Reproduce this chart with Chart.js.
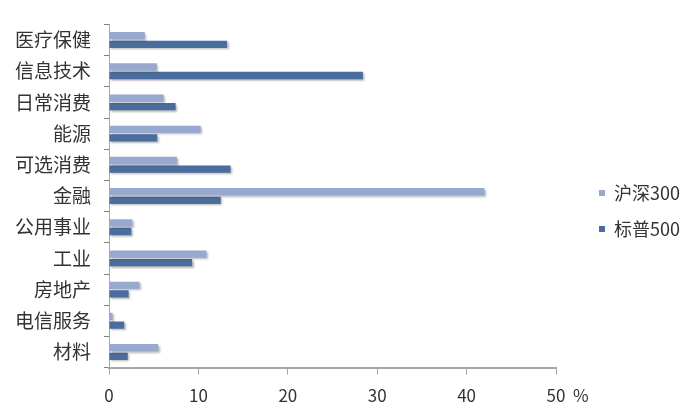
<!DOCTYPE html>
<html lang="zh">
<head>
  <meta charset="UTF-8">
  <title>行业权重对比</title>
  <script src="https://cdn.jsdelivr.net/npm/chart.js"></script>
  <style>
    html, body {
      margin: 0;
      padding: 0;
      background: #ffffff;
    }
    .wrap {
      width: 700px;
      height: 420px;
    }
  </style>
</head>
<body>
  <div class="wrap">
    <canvas id="chart"></canvas>
  </div>

  <script>
    const sectors = ['医疗保健', '信息技术', '日常消费', '能源', '可选消费', '金融', '公用事业', '工业', '房地产', '电信服务', '材料'];
    const hs300 = [4.0, 5.35, 6.1, 10.25, 7.6, 42.0, 2.6, 10.9, 3.4, 0.4, 5.5];
    const sp500 = [13.2, 28.4, 7.45, 5.4, 13.6, 12.5, 2.5, 9.3, 2.2, 1.7, 2.1];
    const xTicks = [0, 10, 20, 30, 40, 50];

    const fontFamily = "'Noto Sans CJK SC', 'Noto Sans', sans-serif";
    const axisGray = '#a6a6a6';
    const textColor = '#333333';
    const tickFont = 17;
    const tickPad = 11;
    const legendPad = 18;

    // soft shadow under the bars, like the original office chart
    const barShadow = {
      id: 'barShadow',
      beforeDatasetsDraw(chart) {
        const c = chart.ctx;
        c.save();
        c.shadowColor = 'rgba(0,0,0,0.28)';
        c.shadowBlur = 2;
        c.shadowOffsetX = 1.5;
        c.shadowOffsetY = 1.5;
      },
      afterDatasetsDraw(chart) {
        chart.ctx.restore();
      }
    };

    // legend sits a bit further right and higher than Chart.js puts it
    const legendNudge = {
      id: 'legendNudge',
      afterLayout(chart) {
        const lg = chart.legend;
        const dx = 599 - (lg.left + legendPad);
        const dy = (422 - (lg.top + lg.bottom)) / 2;
        lg.left += dx; lg.right += dx;
        lg.top += dy; lg.bottom += dy;
      }
    };

    // the "%" sign sitting after the last tick label
    const percentSign = {
      id: 'percentSign',
      afterDraw(chart) {
        const x = chart.scales.x;
        const c = chart.ctx;
        c.save();
        c.font = tickFont + 'px ' + fontFamily;
        c.fillStyle = textColor;
        c.textAlign = 'left';
        c.textBaseline = 'middle';
        const y = x.top + 7 + tickPad + tickFont * 0.6;
        c.fillText('%', x.getPixelForValue(xTicks[xTicks.length - 1]) + 17, y);
        c.restore();
      }
    };

    new Chart(document.getElementById('chart'), {
      type: 'bar',
      data: {
        labels: sectors,
        datasets: [
          {
            label: '沪深300',
            data: hs300,
            backgroundColor: '#97a9cf',
            barPercentage: 0.85,
            categoryPercentage: 0.55
          },
          {
            label: '标普500',
            data: sp500,
            backgroundColor: '#4a6d9e',
            barPercentage: 0.85,
            categoryPercentage: 0.55
          }
        ]
      },
      plugins: [barShadow, legendNudge, percentSign],
      options: {
        indexAxis: 'y',
        responsive: true,
        maintainAspectRatio: false,
        animation: false,
        layout: {
          padding: { left: 2, right: 35, top: 20, bottom: 3 }
        },
        plugins: {
          legend: {
            position: 'right',
            align: 'center',
            labels: {
              color: textColor,
              font: { family: fontFamily, size: 18 },
              boxWidth: 6,
              boxHeight: 6,
              padding: legendPad
            }
          },
          tooltip: { enabled: false }
        },
        scales: {
          x: {
            min: 0,
            max: 50,
            afterBuildTicks(scale) {
              scale.ticks = xTicks.map(v => ({ value: v }));
            },
            border: { color: axisGray, width: 2 },
            grid: {
              drawOnChartArea: false,
              color: axisGray,
              tickLength: 7,
              lineWidth: 1
            },
            ticks: {
              color: textColor,
              padding: tickPad,
              font: { family: fontFamily, size: tickFont }
            }
          },
          y: {
            border: { color: axisGray, width: 1 },
            grid: {
              drawOnChartArea: false,
              color: '#7f7f7f',
              tickLength: 5,
              lineWidth: 1
            },
            ticks: {
              color: textColor,
              padding: 13,
              font: { family: fontFamily, size: 19 }
            }
          }
        }
      }
    });
  </script>
</body>
</html>
